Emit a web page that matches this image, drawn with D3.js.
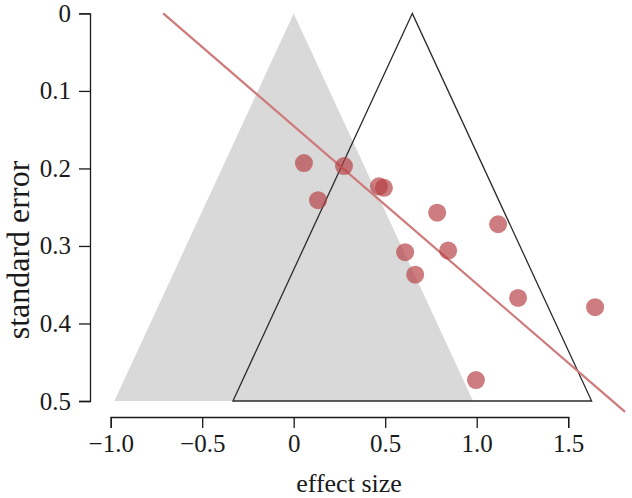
<!DOCTYPE html>
<html>
<head>
<meta charset="utf-8">
<script src="https://cdn.jsdelivr.net/npm/d3@7"></script>
<style>
  html, body { margin: 0; padding: 0; background: #fff; }
  svg { display: block; }
  text { font-family: "Liberation Serif", "Times New Roman", serif; fill: #1a1a1a; }
</style>
</head>
<body>
<svg id="chart" width="632" height="498"></svg>
<script>
// Study effect sizes and standard errors
const effectSizes = [0.056, 0.275, 0.133, 0.466, 0.493, 0.784, 1.117, 0.609, 0.844, 0.664, 1.226, 1.647, 0.996];
const standardErrors = [0.193, 0.197, 0.241, 0.223, 0.225, 0.257, 0.272, 0.308, 0.306, 0.337, 0.367, 0.379, 0.473];

// Funnel centres (null effect and pooled estimate)
const funnelCentres = [0, 0.648];
const funnelZ = 1.96;
const seMax = 0.5;

// Regression line: effect = intercept + slope * se
const regIntercept = -0.713;
const regSlope = 4.91;
const regSeRange = [0, 0.514];

const xTicks = [-1.0, -0.5, 0, 0.5, 1.0, 1.5];
const xTickLabels = ["\u22121.0", "\u22120.5", "0", "0.5", "1.0", "1.5"];
const yTicks = [0, 0.1, 0.2, 0.3, 0.4, 0.5];
const yTickLabels = ["0", "0.1", "0.2", "0.3", "0.4", "0.5"];

const svg = d3.select("#chart");

const x = d3.scaleLinear().domain([-1.0, 1.5]).range([110.7, 568.2]);
const y = d3.scaleLinear().domain([0, 0.5]).range([13.4, 401]);

const plot = svg.append("g");

// Null funnel (grey filled)
const tri = c => [[c, 0], [c - funnelZ * seMax, seMax], [c + funnelZ * seMax, seMax]];
plot.append("path")
  .attr("d", d3.line().x(d => x(d[0])).y(d => y(d[1]))(tri(funnelCentres[0])) + "Z")
  .attr("fill", "#d9d9d9")
  .attr("stroke", "none");

// Pooled funnel (open)
plot.append("path")
  .attr("d", d3.line().x(d => x(d[0])).y(d => y(d[1]))(tri(funnelCentres[1])) + "Z")
  .attr("fill", "none")
  .attr("stroke", "#2b2b2b")
  .attr("stroke-width", 1.3)
  .attr("stroke-linejoin", "miter");

// Regression line
plot.append("line")
  .attr("x1", x(regIntercept + regSlope * regSeRange[0]))
  .attr("y1", y(regSeRange[0]))
  .attr("x2", x(regIntercept + regSlope * regSeRange[1]))
  .attr("y2", y(regSeRange[1]))
  .attr("stroke", "#cf7a7a")
  .attr("stroke-width", 2.2);

// Points
plot.selectAll("circle.pt")
  .data(effectSizes.map((e, i) => ({ e, s: standardErrors[i] })))
  .enter().append("circle")
  .attr("class", "pt")
  .attr("cx", d => x(d.e))
  .attr("cy", d => y(d.s))
  .attr("r", 9)
  .attr("fill", "rgb(182,62,66)")
  .attr("fill-opacity", 0.68);

// X axis
const xAxis = d3.axisBottom(x).tickValues(xTicks).tickSize(11).tickPadding(6)
  .tickFormat((d, i) => xTickLabels[i]);
const gx = svg.append("g").attr("transform", "translate(0,417)").call(xAxis);
gx.select(".domain").attr("stroke", "#1a1a1a").attr("stroke-width", 1.3);
gx.selectAll(".tick line").attr("stroke", "#1a1a1a").attr("stroke-width", 1.3);
gx.selectAll(".tick text").attr("font-size", 25).attr("font-family", "Liberation Serif").attr("fill", "#1a1a1a");

// Y axis
const yAxis = d3.axisLeft(y).tickValues(yTicks).tickSize(11).tickPadding(8)
  .tickFormat((d, i) => yTickLabels[i]);
const gy = svg.append("g").attr("transform", "translate(90,0)").call(yAxis);
gy.select(".domain").attr("stroke", "#1a1a1a").attr("stroke-width", 1.3);
gy.selectAll(".tick line").attr("stroke", "#1a1a1a").attr("stroke-width", 1.3);
gy.selectAll(".tick text").attr("font-size", 25).attr("font-family", "Liberation Serif").attr("fill", "#1a1a1a");

// Axis titles
svg.append("text")
  .attr("x", 349)
  .attr("y", 492)
  .attr("text-anchor", "middle")
  .attr("font-size", 26)
  .text("effect size");

svg.append("text")
  .attr("transform", "translate(29,250) rotate(-90)")
  .attr("text-anchor", "middle")
  .attr("font-size", 32)
  .text("standard error");
</script>
</body>
</html>
